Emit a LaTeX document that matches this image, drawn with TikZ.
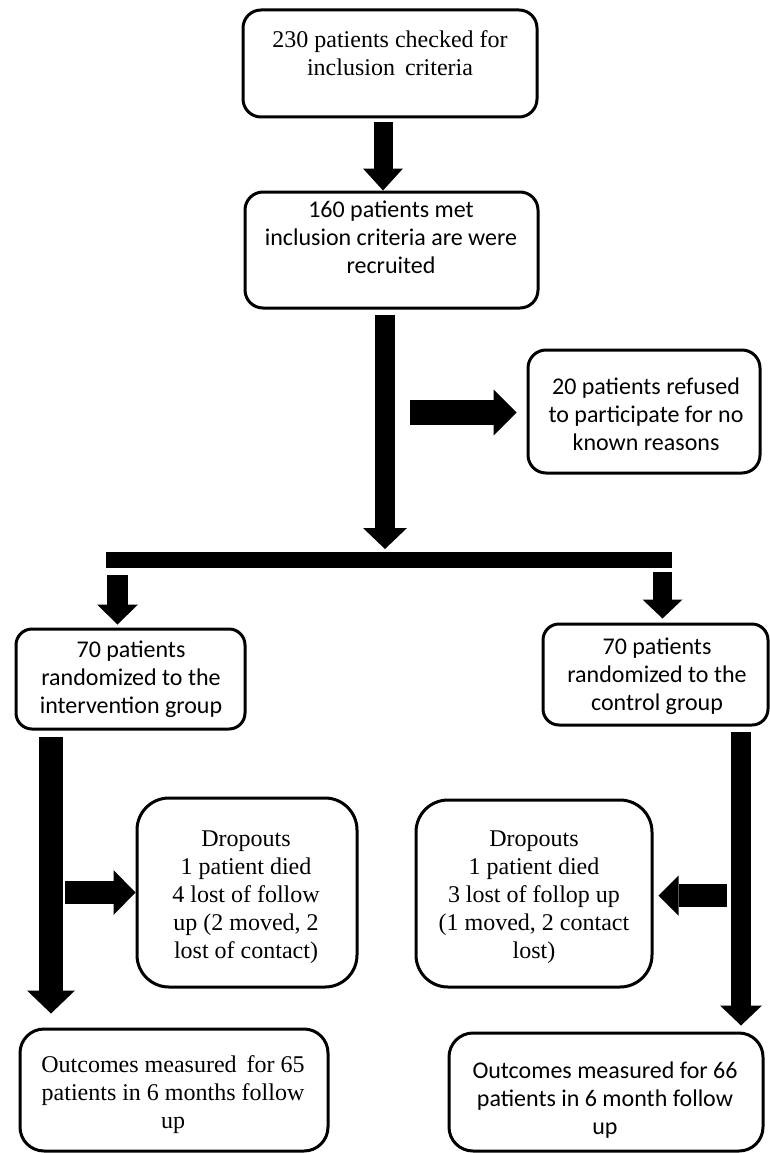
\documentclass[tikz,border=0pt]{standalone}
\usepackage{fontspec}
\setmainfont{Liberation Serif}
\newfontfamily\carl{Carlito}
\usetikzlibrary{arrows.meta,calc}
\begin{document}
\begin{tikzpicture}[x=1pt,y=-1pt,
  box/.style={draw, line width=3pt, rounded corners=#1, inner sep=0pt},
  box/.default=18pt,
  ser/.style={align=center, font=\fontsize{24}{28}\selectfont, inner sep=0pt},
  san/.style={align=center, font=\carl\fontsize{24}{28}\selectfont, inner sep=0pt},
  barrow/.style n args={3}{line width=#1pt, -{Triangle[width=#2pt,length=#3pt,line width=0pt]}},
]
\useasboundingbox[fill=white] (0,0) rectangle (770,1153);

% boxes
\node[box, minimum width=294pt, minimum height=107pt] (b1) at (390,63.5) {};
\node[box, minimum width=293pt, minimum height=116pt] (b2) at (391.5,250) {};
\node[box, minimum width=232pt, minimum height=123pt] (b3) at (644,411.5) {};
\node[box=16pt, minimum width=229pt, minimum height=100pt] (b4) at (130.5,679) {};
\node[box=16pt, minimum width=225pt, minimum height=101pt] (b5) at (655.5,674.5) {};
\node[box=32pt, minimum width=220pt, minimum height=189pt] (b6) at (247,892.5) {};
\node[box=32pt, minimum width=236pt, minimum height=187pt] (b7) at (534,893.5) {};
\node[box=24pt, minimum width=308pt, minimum height=122pt] (b8) at (174,1090) {};
\node[box=24pt, minimum width=314pt, minimum height=118pt] (b9) at (606,1092) {};

% texts
\node[ser] (t1) at (390,53) {230 patients checked for\\inclusion\hspace{4pt} criteria};
\node[san] (t2) at (391,237) {160 patients met\\inclusion criteria are were\\recruited};
\node[san] (t3) at (646,414) {20 patients refused\\to participate for no\\known reasons};
\node[san] (t4) at (131,679.5) {70 patients\\randomized to the\\intervention group};
\node[san] (t5) at (657,676.5) {70 patients\\randomized to the\\control group};
\node[ser] (t6) at (246,897) {Dropouts\\1 patient died\\4 lost of follow\\up (2 moved, 2\\lost of contact)};
\node[ser] (t7) at (534,897) {Dropouts\\1 patient died\\3 lost of follop up\\(1 moved, 2 contact\\lost)};
\node[ser] (t8) at (173,1095) {Outcomes measured\hspace{4pt} for 65\\patients in 6 months follow\\up};
\node[san] (t9) at (605,1100.5) {Outcomes measured for 66\\patients in 6 month follow\\up};

% connectors
\coordinate (a1s) at (383,122);
\draw[barrow={19}{40}{22}] (a1s) -- (a1s |- b2.north);

\coordinate (a2s) at (385,315);
\coordinate (a2e) at (385,549);
\draw[barrow={20}{44}{21}] (a2s) -- (a2e);

\coordinate (a3s) at (410,412.5);
\draw[barrow={25}{46}{23}, shorten >=10pt] (a3s) -- (a3s -| b3.west);

\coordinate (barL) at (106,560);
\coordinate (barR) at (672,560);
\draw[line width=16.5pt] (barL) -- (barR);

\coordinate (a4s) at (117.5,575);
\draw[barrow={21}{41}{20}, shorten >=3pt] (a4s) -- (a4s |- b4.north);

\coordinate (a5s) at (662.5,572);
\draw[barrow={19}{40}{19}, shorten >=4pt] (a5s) -- (a5s |- b5.north);

\coordinate (a6s) at (51,737);
\draw[barrow={24}{48}{23}, shorten >=14pt] (a6s) -- (a6s |- b8.north);

\coordinate (a7s) at (65,892.5);
\draw[barrow={23}{45}{22}] (a7s) -- (a7s -| b6.west);

\coordinate (a8s) at (727,895.5);
\draw[barrow={23}{40}{20}, shorten >=5pt] (a8s) -- (a8s -| b7.east);

\coordinate (a9s) at (741,732);
\draw[barrow={20}{42}{20}, shorten >=6pt] (a9s) -- (a9s |- b9.north);
\end{tikzpicture}
\end{document}
